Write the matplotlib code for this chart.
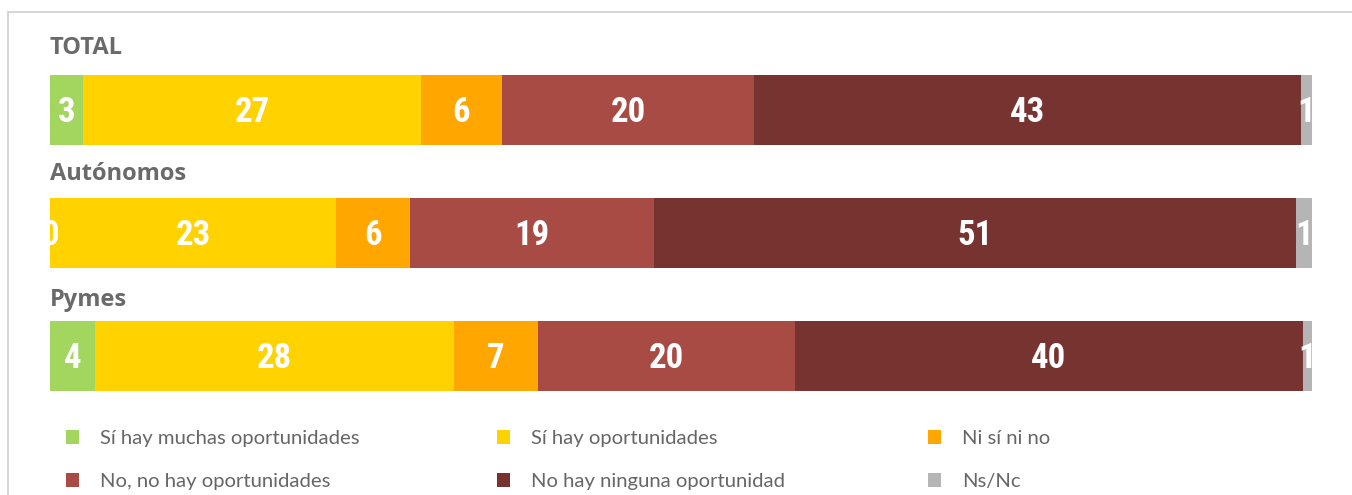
import matplotlib.pyplot as plt
from matplotlib.patches import Patch
from matplotlib.lines import Line2D
import numpy as np

groups = ["TOTAL", "Autónomos", "Pymes"]
categories = ["Sí hay muchas oportunidades", "Sí hay oportunidades", "Ni sí ni no",
              "No, no hay oportunidades", "No hay ninguna oportunidad", "Ns/Nc"]
# segment lengths (labels show them rounded)
muchas = [2.6, 0.0, 3.6]
si_hay = [26.8, 22.7, 28.4]
ni_si_ni_no = [6.4, 5.8, 6.7]
no_hay = [20.0, 19.4, 20.3]
ninguna = [43.3, 50.8, 40.3]
ns_nc = [0.9, 1.3, 0.7]

colors = ["#a3d65f", "#ffd200", "#ffa600", "#a84b45", "#773330", "#b5b5b5"]

W, H, DPI = 1352, 495, 100
fig = plt.figure(figsize=(W / DPI, H / DPI), dpi=DPI, facecolor="white")

# bar area in pixels: x 50..1312, y 75..391 (from top)
bar_h = 70 / 123
ax = fig.add_axes([50 / W, (H - 391) / H, (1312 - 50) / W, 316 / H])
ax.set_xlim(0, 100)
ax.set_ylim(2 + bar_h / 2, -bar_h / 2)
ax.axis("off")

series = [muchas, si_hay, ni_si_ni_no, no_hay, ninguna, ns_nc]
y = np.arange(len(groups))
left = np.zeros(len(groups))
for vals, col in zip(series, colors):
    vals = np.array(vals, dtype=float)
    ax.barh(y, vals, left=left, height=bar_h, color=col, linewidth=0)
    for yi, l, v in zip(y, left, vals):
        ax.text(l + v / 2, yi + 0.02, f"{v:.0f}", ha="center", va="center",
                color="white", fontsize=25, fontweight="bold",
                family=["Roboto Condensed", "DejaVu Sans"], fontstretch="condensed",
                clip_on=True)
    left += vals

# title baseline distance above each bar (px)
title_pad = [21, 18, 15]
for yi, g, p in zip(y, groups, title_pad):
    ax.annotate(g, xy=(0, yi - bar_h / 2), xytext=(0, p * 72 / DPI), textcoords="offset points",
                ha="left", va="baseline", fontsize=17, fontweight="bold",
                color="#6a6a6a", family=["Open Sans", "DejaVu Sans"],
                annotation_clip=False)

# legend, three columns of two rows
handles = [Patch(facecolor=c, edgecolor="none") for c in colors]
col_x = [66, 497, 928]
for k, cx in enumerate(col_x):
    idx = [k, k + 3]
    leg = fig.legend([handles[i] for i in idx], [categories[i] for i in idx],
                     loc="upper left", bbox_to_anchor=(cx / W, (H - 430) / H),
                     frameon=False, handlelength=0.65, handleheight=0.65,
                     handletextpad=1.05, labelspacing=1.3, borderpad=0, borderaxespad=0,
                     prop={"family": ["Lato", "DejaVu Sans"], "size": 14.6})
    for t in leg.get_texts():
        t.set_color("#666666")

# frame lines
fig.add_artist(Line2D([8 / W, 1], [(H - 12) / H] * 2, color="#cfcfcf", lw=1.2))
fig.add_artist(Line2D([8 / W] * 2, [0, (H - 12) / H], color="#cfcfcf", lw=1.2))

fig.savefig("out.png", dpi=DPI, facecolor="white")
